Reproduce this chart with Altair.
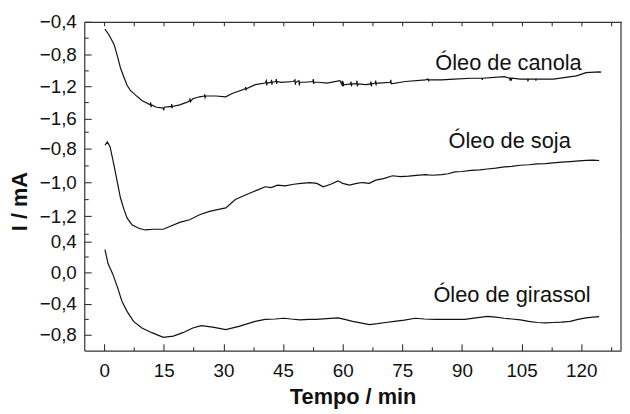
import altair as alt
import pandas as pd

FONT = "Liberation Sans"

# ---------------- data ----------------
t_canola = [0.2, 1.2, 2.5, 3.3, 4.1, 5.0, 5.8, 6.6, 7.9, 9.5, 11.6, 11.7, 11.8, 11.9, 13.2, 14.9, 15.0, 15.1,
            16.9, 17.0, 17.1, 17.2, 19.0, 20.7, 21.5, 21.6, 21.7, 22.3, 24.0, 25.2, 25.3, 25.4, 25.6, 28.1, 30.6,
            32.2, 35.5, 35.6, 35.7, 35.8, 38.0, 40.5, 40.8, 40.9, 41.0, 42.0, 42.1, 42.2, 42.3, 43.2, 43.3, 43.4,
            43.5, 44.5, 47.6, 48.0, 48.1, 48.2, 49.0, 49.1, 49.2, 50.5, 52.5, 52.6, 52.7, 52.8, 54.0, 56.0, 59.3,
            59.8, 59.9, 60.0, 60.1, 60.2, 60.4, 62.0, 62.1, 62.2, 62.3, 63.5, 63.6, 63.7, 63.8, 65.9, 67.0, 67.1,
            67.2, 67.3, 68.2, 68.3, 68.4, 68.5, 69.2, 72.0, 72.1, 72.2, 75.8, 80.8, 81.5, 81.6, 81.7, 84.9, 88.0,
            92.3, 95.0, 95.1, 95.2, 100.6, 102.0, 102.1, 102.2, 102.4, 102.6, 104.7, 106.5, 106.6, 106.7, 108.5,
            108.6, 108.7, 113.0, 118.8, 121.2, 124.5, 125.0]
v_canola = [-0.49, -0.56, -0.68, -0.82, -0.97, -1.09, -1.19, -1.25, -1.31, -1.375, -1.43, -1.40, -1.46, -1.43,
            -1.46, -1.47, -1.50, -1.46, -1.45, -1.42, -1.47, -1.45, -1.43, -1.40, -1.38, -1.35, -1.39, -1.355,
            -1.33, -1.32, -1.30, -1.34, -1.32, -1.32, -1.33, -1.29, -1.23, -1.21, -1.25, -1.23, -1.18, -1.16,
            -1.13, -1.19, -1.16, -1.15, -1.12, -1.18, -1.15, -1.14, -1.11, -1.17, -1.14, -1.15, -1.14, -1.12,
            -1.18, -1.15, -1.13, -1.19, -1.15, -1.15, -1.14, -1.11, -1.17, -1.15, -1.15, -1.16, -1.13, -1.18,
            -1.13, -1.20, -1.14, -1.19, -1.18, -1.17, -1.14, -1.20, -1.17, -1.17, -1.13, -1.20, -1.17, -1.18,
            -1.17, -1.14, -1.20, -1.17, -1.16, -1.13, -1.19, -1.16, -1.16, -1.15, -1.12, -1.17, -1.14, -1.12,
            -1.11, -1.14, -1.12, -1.12, -1.11, -1.10, -1.10, -1.12, -1.10, -1.08, -1.10, -1.13, -1.09, -1.12,
            -1.10, -1.11, -1.11, -1.14, -1.11, -1.11, -1.13, -1.11, -1.11, -1.07, -1.03, -1.02, -1.025]

t_soja = [0.2, 0.8, 1.5, 2.5, 3.3, 4.1, 5.0, 5.8, 7.0, 8.7, 10.3, 12.4, 14.9, 16.5, 19.0, 21.5, 24.0, 26.5,
          28.5, 30.6, 33.0, 36.4, 38.5, 40.5, 42.0, 43.6, 45.5, 47.7, 49.5, 51.8, 53.5, 55.1, 57.0, 58.8, 60.0,
          61.7, 63.5, 65.0, 66.7, 68.3, 70.5, 72.5, 74.5, 76.6, 78.5, 80.8, 82.5, 84.9, 86.5, 88.2, 90.0, 92.3,
          94.5, 96.4, 98.5, 100.6, 102.5, 104.7, 106.8, 108.9, 111.0, 113.0, 115.0, 117.2, 119.5, 121.2, 123.0,
          124.5]
v_soja = [-0.78, -0.76, -0.79, -0.90, -0.996, -1.09, -1.16, -1.21, -1.25, -1.27, -1.28, -1.276, -1.276, -1.26,
          -1.235, -1.22, -1.19, -1.17, -1.16, -1.15, -1.10, -1.065, -1.045, -1.025, -1.03, -1.015, -1.02, -1.01,
          -1.005, -1.00, -1.005, -1.025, -1.01, -0.99, -1.005, -1.015, -1.005, -1.00, -1.005, -0.986, -0.975,
          -0.96, -0.965, -0.962, -0.958, -0.953, -0.957, -0.953, -0.948, -0.937, -0.935, -0.928, -0.925, -0.92,
          -0.915, -0.908, -0.905, -0.898, -0.895, -0.89, -0.888, -0.884, -0.88, -0.876, -0.872, -0.869, -0.868,
          -0.87]

t_girassol = [0.2, 1.0, 2.1, 3.3, 4.5, 5.8, 7.4, 9.5, 12.0, 14.9, 17.4, 19.8, 22.3, 24.4, 27.3, 30.6, 33.9,
              38.0, 40.5, 43.0, 45.2, 47.0, 49.3, 51.5, 53.4, 56.0, 58.8, 60.5, 62.5, 64.5, 66.7, 68.8, 70.8,
              73.0, 75.5, 78.3, 80.5, 83.2, 86.0, 88.5, 90.7, 93.5, 96.4, 98.5, 100.6, 102.5, 104.7, 106.8,
              108.9, 111.0, 113.0, 115.0, 117.2, 119.2, 121.2, 123.0, 124.5]
v_girassol = [0.295, 0.113, -0.01, -0.18, -0.37, -0.50, -0.625, -0.71, -0.77, -0.83, -0.815, -0.77, -0.71,
              -0.68, -0.70, -0.73, -0.69, -0.625, -0.60, -0.595, -0.585, -0.595, -0.605, -0.60, -0.60, -0.59,
              -0.58, -0.60, -0.625, -0.645, -0.667, -0.655, -0.64, -0.625, -0.61, -0.585, -0.595, -0.60, -0.60,
              -0.60, -0.60, -0.58, -0.56, -0.57, -0.585, -0.595, -0.605, -0.625, -0.64, -0.645, -0.64, -0.635,
              -0.625, -0.60, -0.58, -0.57, -0.565]

labels = ["Óleo de canola", "Óleo de soja", "Óleo de girassol"]
label_t = [101.7, 102.0, 102.6]
label_v = [-0.91, -0.753, -0.284]

y_domains = [[-1.69, -0.4], [-1.32, -0.665], [-1.0, 0.46]]
y_major = [[-0.4, -0.8, -1.2, -1.6], [-0.8, -1.0, -1.2], [0.4, 0.0, -0.4, -0.8]]
y_minor = [[-0.6, -1.0, -1.4], [-0.7, -0.9, -1.1, -1.3], [0.2, -0.2, -0.6]]
heights = [105, 112, 115]

x_domain = [-5, 130]
x_major = [0, 15, 30, 45, 60, 75, 90, 105, 120]
x_minor = [7.5, 22.5, 37.5, 52.5, 67.5, 82.5, 97.5, 112.5, 127.5]
x_top = sorted(x_major + x_minor)

W = 542
BLACK = "#111111"
FRAME = "#333333"
LBL = 19


def panel(i, t, v, top=False, bottom=False, ytitle=None):
    df = pd.DataFrame({"t": t, "v": v})
    xs = alt.Scale(domain=x_domain, nice=False, zero=False)
    ys = alt.Scale(domain=y_domains[i], nice=False, zero=False)

    if bottom:
        xax = alt.Axis(orient="bottom", values=x_major, ticks=False, tickSize=0, domain=True,
                       labelPadding=11, labelFont=FONT, labelFontSize=LBL, labelColor=BLACK,
                       title="Tempo / min", titleFont=FONT, titleFontSize=22, titleFontWeight="bold",
                       titleColor=BLACK, titlePadding=6, grid=False)
    elif top:
        xax = alt.Axis(orient="top", ticks=False, tickSize=0, labels=False, domain=True, title=None, grid=False)
    else:
        xax = None

    yax_kwargs = dict(orient="left", values=y_major[i], ticks=False, tickSize=0, domain=True,
                      labelPadding=8, labelFont=FONT, labelFontSize=LBL, labelColor=BLACK,
                      labelExpr="replace(format(datum.value, '.1f'), '.', ',')", grid=False)
    if ytitle:
        yax_kwargs.update(title=ytitle, titleFont=FONT, titleFontSize=22, titleFontWeight="bold",
                          titleColor=BLACK, titlePadding=8, titleY=76)
    else:
        yax_kwargs.update(title=None)

    line = alt.Chart(df).mark_line(color=BLACK, strokeWidth=1.2).encode(
        x=alt.X("t:Q", scale=xs, axis=xax),
        y=alt.Y("v:Q", scale=ys, axis=alt.Axis(**yax_kwargs)),
    )

    # major ticks (inward)
    if bottom:
        xax2 = alt.Axis(orient="bottom", values=x_major, offset=-7, tickSize=7, labels=False, domain=False,
                        title=None, grid=False)
    elif top:
        xax2 = alt.Axis(orient="top", values=x_top, offset=-4, tickSize=4, labels=False, domain=False,
                        title=None, grid=False)
    else:
        xax2 = None
    major = alt.Chart(df).mark_line(strokeOpacity=0).encode(
        x=alt.X("t:Q", scale=xs, axis=xax2),
        y=alt.Y("v:Q", scale=ys, axis=alt.Axis(orient="left", values=y_major[i], offset=-7, tickSize=7,
                                               labels=False, domain=False, title=None, grid=False)),
    )

    # minor ticks (inward)
    if bottom:
        xax3 = alt.Axis(orient="bottom", values=x_minor, offset=-4, tickSize=4, labels=False, domain=False,
                        title=None, grid=False)
    else:
        xax3 = None
    minor = alt.Chart(df).mark_line(strokeOpacity=0).encode(
        x=alt.X("t:Q", scale=xs, axis=xax3),
        y=alt.Y("v:Q", scale=ys, axis=alt.Axis(orient="left", values=y_minor[i], offset=-4, tickSize=4,
                                               labels=False, domain=False, title=None, grid=False)),
    )

    # right frame edge
    right = alt.Chart(pd.DataFrame({"edge": [x_domain[1]]})).mark_rule(color=FRAME, strokeWidth=1.2).encode(
        x=alt.X("edge:Q", scale=xs, axis=None),
    )

    lab = alt.Chart(pd.DataFrame({"t": [label_t[i]], "v": [label_v[i]], "s": [labels[i]]})).mark_text(
        font=FONT, fontSize=22, color=BLACK, align="center", baseline="middle"
    ).encode(
        x=alt.X("t:Q", scale=xs, axis=None),
        y=alt.Y("v:Q", scale=ys, axis=None),
        text="s:N",
    )

    return alt.layer(line, major, minor, right, lab).resolve_axis(
        x="independent", y="independent"
    ).properties(width=W, height=heights[i])


p1 = panel(0, t_canola, v_canola, top=True)
p2 = panel(1, t_soja, v_soja, ytitle="I / mA")
p3 = panel(2, t_girassol, v_girassol, bottom=True)

chart = alt.vconcat(p1, p2, p3, spacing=0, bounds="flush").resolve_scale(y="independent").properties(
    padding={"left": 0, "top": 3, "right": 0, "bottom": 0},
    background="white",
).configure_view(strokeWidth=0, stroke="transparent").configure_axis(
    domainColor=FRAME, domainWidth=1.2, tickColor=FRAME, tickWidth=1.1,
)

chart.save("out.html", embed_options={"renderer": "svg", "actions": False})
